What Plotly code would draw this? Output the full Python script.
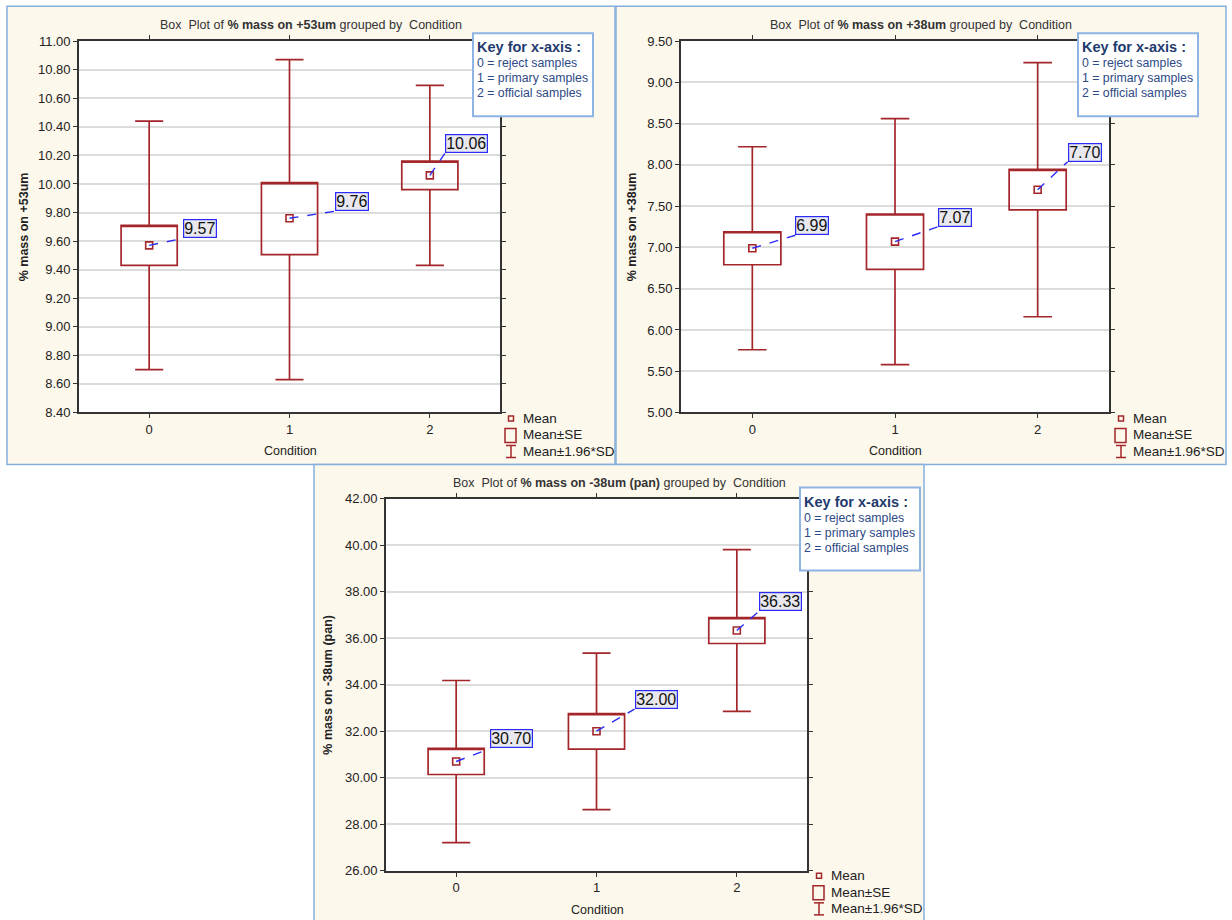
import plotly.graph_objects as go

# ---- data -------------------------------------------------------------
conditions = [0, 1, 2]
key_lines = ["0 = reject samples", "1 = primary samples", "2 = official samples"]
legend_labels = ["Mean", "Mean±SE", "Mean±1.96*SD"]

# % mass on +53um
m53_mean = [9.57, 9.76, 10.06]
m53_se_lo = [9.43, 9.505, 9.96]
m53_se_hi = [9.71, 10.01, 10.16]
m53_sd_lo = [8.70, 8.63, 9.43]
m53_sd_hi = [10.44, 10.87, 10.69]
m53_ticks = [8.40, 8.60, 8.80, 9.00, 9.20, 9.40, 9.60, 9.80, 10.00, 10.20, 10.40, 10.60, 10.80, 11.00]

# % mass on +38um
m38_mean = [6.99, 7.07, 7.70]
m38_se_lo = [6.79, 6.735, 7.455]
m38_se_hi = [7.19, 7.405, 7.945]
m38_sd_lo = [5.76, 5.58, 6.16]
m38_sd_hi = [8.22, 8.56, 9.24]
m38_ticks = [5.00, 5.50, 6.00, 6.50, 7.00, 7.50, 8.00, 8.50, 9.00, 9.50]

# % mass on -38um (pan)
pan_mean = [30.70, 32.00, 36.33]
pan_se_lo = [30.14, 31.23, 35.77]
pan_se_hi = [31.26, 32.76, 36.88]
pan_sd_lo = [27.21, 28.63, 32.85]
pan_sd_hi = [34.18, 35.36, 39.80]
pan_ticks = [26.00, 28.00, 30.00, 32.00, 34.00, 36.00, 38.00, 40.00, 42.00]

# ---- styling ----------------------------------------------------------
W, H = 1232, 920
RED = "#A3262A"
BLUE = "#2B2BF5"
CREAM = "#FDF8EC"
FRAME = "#86AEDD"
FONT = "Liberation Sans, Arial, sans-serif"

# the page adds a small top/bottom body margin, so vertical positions are
# laid out on a slightly taller page and shifted up to compensate
PAGE_PAD = 8
V_SCALE = (H + 2 * PAGE_PAD) / H


def fx(p):
    return p / W


def fy(p):
    return 1 - (p * V_SCALE - PAGE_PAD) / H


panels = [
    dict(var="% mass on +53um", mean=m53_mean, se_lo=m53_se_lo, se_hi=m53_se_hi,
         sd_lo=m53_sd_lo, sd_hi=m53_sd_hi, ticks=m53_ticks,
         frame=(7, 7, 615, 465), plot=(79, 42, 500, 413),
         title=(311, 26), xtitle=(290, 452), ytitle=(24, 228),
         key=(473, 34, 593, 117), legend=(511, 419),
         offsets=[(34, 7), (45, 7), (15, 22)]),
    dict(var="% mass on +38um", mean=m38_mean, se_lo=m38_se_lo, se_hi=m38_se_hi,
         sd_lo=m38_sd_lo, sd_hi=m38_sd_hi, ticks=m38_ticks,
         frame=(616, 7, 1226, 465), plot=(681, 42, 1109, 413),
         title=(921, 26), xtitle=(895, 452), ytitle=(632, 228),
         key=(1078, 34, 1198, 117), legend=(1121, 419),
         offsets=[(43, 13), (43, 15), (30, 28)]),
    dict(var="% mass on -38um (pan)", mean=pan_mean, se_lo=pan_se_lo, se_hi=pan_se_hi,
         sd_lo=pan_sd_lo, sd_hi=pan_sd_hi, ticks=pan_ticks,
         frame=(314, 465, 924, 930), plot=(386, 499, 807, 871),
         title=(619, 483), xtitle=(597, 910), ytitle=(328, 685),
         key=(800, 488, 920, 571), legend=(819, 876),
         offsets=[(34, 13), (38, 22), (22, 19)]),
]

fig = go.Figure()
shapes = []
annotations = []
layout_axes = {}

# panel backgrounds first so they sit underneath everything
for p in panels:
    x0, y0, x1, y1 = p["frame"]
    shapes.append(dict(type="rect", xref="paper", yref="paper",
                       x0=fx(x0), x1=fx(x1), y0=fy(y1), y1=fy(y0),
                       fillcolor=CREAM, line=dict(color=FRAME, width=1.5),
                       layer="below"))
# white plotting areas on top of the cream panels
for p in panels:
    x0, y0, x1, y1 = p["plot"]
    shapes.append(dict(type="rect", xref="paper", yref="paper",
                       x0=fx(x0), x1=fx(x1), y0=fy(y1), y1=fy(y0),
                       fillcolor="white", line=dict(width=0), layer="below"))

for i, p in enumerate(panels):
    n = "" if i == 0 else str(i + 1)
    xa, ya = "x" + n, "y" + n
    px0, py0, px1, py1 = p["plot"]

    fig.add_trace(go.Box(
        x=conditions, q1=p["se_lo"], median=p["se_hi"], q3=p["se_hi"],
        lowerfence=p["sd_lo"], upperfence=p["sd_hi"],
        width=0.4, whiskerwidth=0.5, boxpoints=False,
        line=dict(color=RED, width=1.7), fillcolor="rgba(255,255,255,0)",
        xaxis=xa, yaxis=ya, showlegend=False, hoverinfo="skip"))

    fig.add_trace(go.Scatter(
        x=conditions, y=p["mean"], mode="markers",
        marker=dict(symbol="square-open", size=7, color=RED, line=dict(width=1.6)),
        xaxis=xa, yaxis=ya, showlegend=False, hoverinfo="skip"))

    ticks = p["ticks"]
    layout_axes["xaxis" + n] = dict(
        domain=[fx(px0), fx(px1)], anchor=ya, range=[-0.5, 2.5],
        tickvals=conditions, ticktext=[str(c) for c in conditions],
        ticks="outside", ticklen=4, tickcolor="#333333",
        showline=True, mirror="ticks", linecolor="#333333", linewidth=1.7,
        showgrid=False, zeroline=False,
        tickfont=dict(family=FONT, size=13, color="#222222"))
    layout_axes["yaxis" + n] = dict(
        domain=[fy(py1), fy(py0)], anchor=xa, range=[ticks[0], ticks[-1]],
        tickvals=ticks, ticktext=[f"{t:.2f}" for t in ticks],
        ticks="outside", ticklen=4, tickcolor="#333333",
        showline=True, mirror="ticks", linecolor="#333333", linewidth=1.7,
        showgrid=True, gridcolor="#DCDCDC", gridwidth=1.5, zeroline=False,
        tickfont=dict(family=FONT, size=13, color="#222222"))

    # value labels with dashed leaders
    for c, m, (dx, dy) in zip(conditions, p["mean"], p["offsets"]):
        shapes.append(dict(type="line", xref=xa, yref=ya,
                           xsizemode="pixel", xanchor=c, x0=0, x1=dx,
                           ysizemode="pixel", yanchor=m, y0=0, y1=dy,
                           line=dict(color=BLUE, width=1.4, dash="dash")))
        annotations.append(dict(x=c, y=m, xref=xa, yref=ya, xshift=dx, yshift=dy,
                                xanchor="left", yanchor="bottom", showarrow=False,
                                text=f"{m:.2f}", bgcolor="#E8E8EE",
                                bordercolor=BLUE, borderwidth=1.2, borderpad=0,
                                font=dict(family=FONT, size=16, color="#111111")))

    # titles
    tx, ty = p["title"]
    annotations.append(dict(x=fx(tx), y=fy(ty), xref="paper", yref="paper",
                            showarrow=False, xanchor="center", yanchor="middle",
                            text=f"Box  Plot of <b>{p['var']}</b> grouped by  Condition",
                            font=dict(family=FONT, size=12.5, color="#333333")))
    tx, ty = p["xtitle"]
    annotations.append(dict(x=fx(tx), y=fy(ty), xref="paper", yref="paper",
                            showarrow=False, xanchor="center", yanchor="middle",
                            text="Condition",
                            font=dict(family=FONT, size=12.5, color="#222222")))
    tx, ty = p["ytitle"]
    annotations.append(dict(x=fx(tx), y=fy(ty), xref="paper", yref="paper",
                            showarrow=False, xanchor="center", yanchor="middle",
                            textangle=-90, text=f"<b>{p['var']}</b>",
                            font=dict(family=FONT, size=12.5, color="#222222")))

    # key for x-axis
    kx0, ky0, kx1, ky1 = p["key"]
    shapes.append(dict(type="rect", xref="paper", yref="paper",
                       x0=fx(kx0), x1=fx(kx1), y0=fy(ky1), y1=fy(ky0),
                       fillcolor="white", line=dict(color="#8DB4E2", width=2)))
    annotations.append(dict(x=fx(kx0 + 2), y=fy(ky0 + 14), xref="paper", yref="paper",
                            showarrow=False, xanchor="left", yanchor="middle",
                            text="<b>Key for x-axis :</b>",
                            font=dict(family=FONT, size=14.5, color="#1F3A6E")))
    for j, line in enumerate(key_lines):
        annotations.append(dict(x=fx(kx0 + 2), y=fy(ky0 + 30 + 15 * j),
                                xref="paper", yref="paper", showarrow=False,
                                xanchor="left", yanchor="middle", text=line,
                                font=dict(family=FONT, size=12.3, color="#2E4A86")))

    # legend glyphs
    mx, my = p["legend"]
    shapes.append(dict(type="rect", xref="paper", yref="paper",
                       x0=fx(mx - 2.5), x1=fx(mx + 2.5), y0=fy(my + 2.5), y1=fy(my - 2.5),
                       line=dict(color=RED, width=1.5)))
    shapes.append(dict(type="rect", xref="paper", yref="paper",
                       x0=fx(mx - 6), x1=fx(mx + 5), y0=fy(my + 24), y1=fy(my + 10),
                       line=dict(color=RED, width=1.5)))
    shapes.append(dict(type="line", xref="paper", yref="paper",
                       x0=fx(mx), x1=fx(mx), y0=fy(my + 39), y1=fy(my + 27),
                       line=dict(color=RED, width=1.5)))
    for yy in (my + 27, my + 39):
        shapes.append(dict(type="line", xref="paper", yref="paper",
                           x0=fx(mx - 5), x1=fx(mx + 5), y0=fy(yy), y1=fy(yy),
                           line=dict(color=RED, width=1.5)))
    for j, lab in enumerate(legend_labels):
        annotations.append(dict(x=fx(mx + 10), y=fy(my + 16.5 * j), xref="paper", yref="paper",
                                showarrow=False, xanchor="left", yanchor="middle",
                                text=lab, font=dict(family=FONT, size=13.5, color="#222222")))

fig.update_layout(
    width=W, height=H, margin=dict(l=0, r=0, t=0, b=0),
    paper_bgcolor="white", plot_bgcolor="white",
    shapes=shapes, annotations=annotations, showlegend=False,
    **layout_axes)

fig.write_html("out.html")
